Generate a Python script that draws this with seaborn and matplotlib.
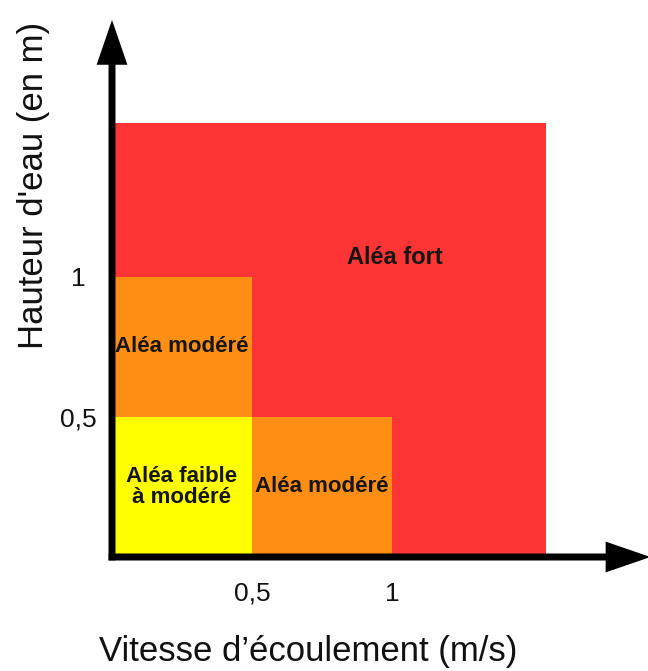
import matplotlib
matplotlib.use("Agg")
import matplotlib.pyplot as plt
import seaborn as sns

# ---------------------------------------------------------------
# Data: hazard zones (velocity m/s x water depth m)
# ---------------------------------------------------------------
zone_labels = ["Aléa fort", "Aléa modéré", "Aléa faible\nà modéré", "Aléa modéré"]
speed_start = [0.0, 0.0, 0.0, 0.5]
speed_end = [1.55, 0.5, 0.5, 1.0]
depth_start = [0.0, 0.5, 0.0, 0.0]
depth_end = [1.55, 1.0, 0.5, 0.5]
zone_colors = ["#FF3535", "#FF8E14", "#FFFF00", "#FF8E14"]

x_ticks = [0.5, 1.0]
x_tick_labels = ["0,5", "1"]
y_ticks = [0.5, 1.0]
y_tick_labels = ["0,5", "1"]

# ---------------------------------------------------------------
# Figure
# ---------------------------------------------------------------
sns.set_theme(style="white")
plt.rcParams["font.family"] = ["Liberation Sans", "DejaVu Sans"]

W, H = 648, 671
fig = plt.figure(figsize=(W / 100, H / 100), dpi=100)
ax = fig.add_axes([112 / W, 114 / H, 532 / W, 532 / H])
ax.set_xlim(0, 1.9)
ax.set_ylim(0, 1.9)

widths = [e - s for s, e in zip(speed_start, speed_end)]
heights = [e - s for s, e in zip(depth_start, depth_end)]
ax.bar(speed_start, heights, width=widths, bottom=depth_start, align="edge",
       color=zone_colors, edgecolor="none", linewidth=0, zorder=1)

# zone labels, centred in each block (the big red one sits off-centre)
for i, lab in enumerate(zone_labels):
    cx = (speed_start[i] + speed_end[i]) / 2
    cy = (depth_start[i] + depth_end[i]) / 2
    size = 16
    if i == 0:
        cx, cy, size = 1.01, 1.07, 17
    ax.text(cx, cy, lab, ha="center", va="center", fontsize=size,
            fontweight="bold", color="#151515", linespacing=1.0, zorder=3)

# axes drawn as thick filled arrows (equal scale on x and y: 280 px / unit)
arrow_kw = dict(width=0.025, head_width=0.11, head_length=0.16,
                length_includes_head=True, color="black", lw=0,
                clip_on=False, zorder=4)
ax.arrow(-0.012, 0, 1.935, 0, **arrow_kw)
ax.arrow(0, -0.012, 0, 1.93, **arrow_kw)

sns.despine(ax=ax, left=True, bottom=True)
ax.set_xticks(x_ticks, x_tick_labels)
ax.set_yticks(y_ticks, y_tick_labels)
ax.tick_params(axis="x", length=0, pad=18, labelsize=19, labelcolor="#111111")
ax.tick_params(axis="y", length=0, pad=24, labelsize=19, labelcolor="#111111")
for t in ax.get_yticklabels():
    t.set_horizontalalignment("center")
ax.grid(False)

ax.set_xlabel("Vitesse d’écoulement (m/s)", fontsize=25, color="#111111")
ax.set_ylabel("Hauteur d'eau (en m)", fontsize=25, color="#111111")
ax.xaxis.set_label_coords(0.368, -0.146)
ax.yaxis.set_label_coords(-0.117, 0.699)

fig.savefig("out.png", dpi=100, facecolor="white")
